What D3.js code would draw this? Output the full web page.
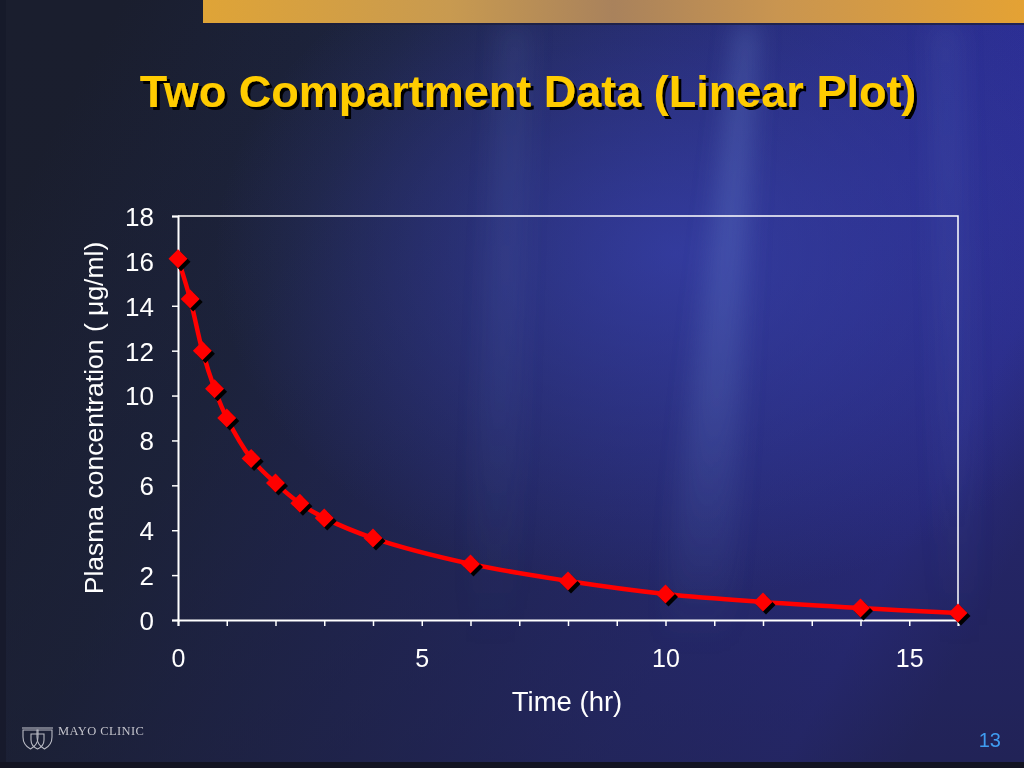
<!DOCTYPE html>
<html><head><meta charset="utf-8">
<script src="https://cdn.jsdelivr.net/npm/d3@7"></script>
<style>html,body{margin:0;padding:0;background:#1b1f33;overflow:hidden}svg{display:block}</style>
</head><body>
<svg id="c" width="1024" height="768"></svg>
<script>
// ---- data ----
const timeHr = [0, 0.25, 0.5, 0.75, 1, 1.5, 2, 2.5, 3, 4, 6, 8, 10, 12, 14, 16];
const concentration = [16.1, 14.3, 12.0, 10.3, 9.0, 7.2, 6.1, 5.2, 4.55, 3.65, 2.5, 1.74, 1.16, 0.8, 0.53, 0.31];
const xTickLabels = [0, 5, 10, 15];
const yTickLabels = [0, 2, 4, 6, 8, 10, 12, 14, 16, 18];
const titleText = "Two Compartment Data (Linear Plot)";
const xTitle = "Time (hr)";
const yTitle = "Plasma concentration ( \u03BCg/ml)";

const svg = d3.select("#c");
const W = 1024, H = 768;
const defs = svg.append("defs");

// background gradient
const bg = defs.append("linearGradient").attr("id","bg").attr("x1","0").attr("y1","0.3").attr("x2","1").attr("y2","0.7");
[[0,"#1a1e2e"],[0.25,"#1d2440"],[0.5,"#24296a"],[0.75,"#2c2f94"],[0.9,"#2f30a4"],[1,"#2a2a8a"]].forEach(([o,c])=>bg.append("stop").attr("offset",o).attr("stop-color",c));
svg.append("rect").attr("width",W).attr("height",H).attr("fill","url(#bg)");

// darker bottom overlay
const dl = defs.append("linearGradient").attr("id","dl").attr("x1","0").attr("y1","0").attr("x2","0").attr("y2","1");
dl.append("stop").attr("offset",0).attr("stop-color","#1a1d2c").attr("stop-opacity",0);
dl.append("stop").attr("offset",1).attr("stop-color","#1a1d2c").attr("stop-opacity",0.55);
svg.append("rect").attr("width",W).attr("height",H).attr("fill","url(#dl)");

// blue glow upper right-center
const glow = defs.append("radialGradient").attr("id","glow").attr("cx","0.66").attr("cy","0.33").attr("r","0.45");
glow.append("stop").attr("offset",0).attr("stop-color","#3b45b8").attr("stop-opacity",0.65);
glow.append("stop").attr("offset",1).attr("stop-color","#3b45b8").attr("stop-opacity",0);
svg.append("rect").attr("width",W).attr("height",H).attr("fill","url(#glow)");

// light beams
const blur = defs.append("filter").attr("id","blur").attr("x","-50%").attr("y","-10%").attr("width","200%").attr("height","120%");
blur.append("feGaussianBlur").attr("stdDeviation",12);
const beamG = defs.append("linearGradient").attr("id","beamG").attr("x1","0").attr("y1","0").attr("x2","0").attr("y2","1");
beamG.append("stop").attr("offset",0).attr("stop-color","#7a9ae0").attr("stop-opacity",1);
beamG.append("stop").attr("offset",0.6).attr("stop-color","#7a9ae0").attr("stop-opacity",0.6);
beamG.append("stop").attr("offset",1).attr("stop-color","#7a9ae0").attr("stop-opacity",0);
const beams = svg.append("g").attr("filter","url(#blur)");
beams.append("path").attr("d","M738,25 L756,25 L730,650 L660,650 Z").attr("fill","url(#beamG)").attr("opacity",0.3);
beams.append("path").attr("d","M500,25 L530,25 L515,650 L465,650 Z").attr("fill","url(#beamG)").attr("opacity",0.1);
beams.append("path").attr("d","M930,25 L960,25 L980,650 L940,650 Z").attr("fill","url(#beamG)").attr("opacity",0.1);

// left dark strip
svg.append("rect").attr("x",0).attr("y",0).attr("width",6).attr("height",H).attr("fill","#15182a").attr("opacity",0.7);

// top bar
const tb = defs.append("linearGradient").attr("id","tb").attr("x1","0").attr("x2","1");
[[0,"#dfa437"],[0.3,"#c89a50"],[0.5,"#a9825c"],[0.7,"#c99550"],[1,"#e4a234"]].forEach(([o,c])=>tb.append("stop").attr("offset",o).attr("stop-color",c));
svg.append("rect").attr("x",203).attr("y",0).attr("width",W-203).attr("height",23).attr("fill","url(#tb)");
svg.append("rect").attr("x",203).attr("y",23).attr("width",W-203).attr("height",2).attr("fill","#1b1d3a").attr("opacity",0.7);

// bottom band
svg.append("rect").attr("x",0).attr("y",762).attr("width",W).attr("height",6).attr("fill","#131422");

// title with shadow filter
const sh = defs.append("filter").attr("id","tsh").attr("x","-5%").attr("y","-20%").attr("width","110%").attr("height","140%");
sh.append("feOffset").attr("in","SourceAlpha").attr("dx",3).attr("dy",3).attr("result","off");
sh.append("feFlood").attr("flood-color","#000");
sh.append("feComposite").attr("in2","off").attr("operator","in").attr("result","shadow");
const mg = sh.append("feMerge");
mg.append("feMergeNode").attr("in","shadow");
mg.append("feMergeNode").attr("in","SourceGraphic");
svg.append("text").attr("x",528).attr("y",107).attr("text-anchor","middle").attr("fill","#ffcc00")
  .attr("filter","url(#tsh)")
  .style("font-family","'Liberation Sans', Arial, sans-serif").style("font-weight","bold").style("font-size","45px")
  .text(titleText);

// chart
const m = {l:178, r:958, t:216, b:620};
const x = d3.scaleLinear().domain([0,16]).range([m.l,m.r]);
const y = d3.scaleLinear().domain([0,18]).range([m.b,m.t]);

const axFont = "'Liberation Sans', Arial, sans-serif";

// frame top/right
svg.append("path").attr("d",`M${m.l},${m.t}H${m.r}V${m.b}`).attr("fill","none").attr("stroke","#fff").attr("stroke-width",1.5);

const xAxis = svg.append("g").attr("transform",`translate(0,${m.b})`)
  .call(d3.axisBottom(x).tickValues(d3.range(0,17,1)).tickSize(6).tickFormat(d=>xTickLabels.includes(d)?d:""));
const yAxis = svg.append("g").attr("transform",`translate(${m.l},0)`)
  .call(d3.axisLeft(y).tickValues(yTickLabels).tickSize(6));
[xAxis,yAxis].forEach(a=>{
  a.select(".domain").attr("stroke","#fff").attr("stroke-width",2);
  a.selectAll(".tick line").attr("stroke","#fff").attr("stroke-width",1.5);
  a.selectAll("text").attr("fill","#fff").style("font-family",axFont).style("font-size","26px");
});
xAxis.selectAll("text").attr("dy","0").attr("y",47).style("font-size","25px");
yAxis.selectAll("text").attr("x",-24).attr("dy","0.36em");

svg.append("text").attr("x",567).attr("y",711).attr("text-anchor","middle").attr("fill","#fff")
  .style("font-family",axFont).style("font-size","27.5px").text(xTitle);
svg.append("text").attr("transform","translate(103,418) rotate(-90)").attr("text-anchor","middle").attr("fill","#fff")
  .style("font-family",axFont).style("font-size","26.5px").text(yTitle);

// line
const pts = timeHr.map((t,i)=>[t,concentration[i]]);
const line = d3.line().x(d=>x(d[0])).y(d=>y(d[1])).curve(d3.curveCatmullRom.alpha(0.5));
svg.append("path").datum(pts).attr("d",line).attr("fill","none").attr("stroke","#ff0000").attr("stroke-width",4.5).attr("stroke-linejoin","round");

// markers
const dsz = 9.5;
const diamond = `M0,${-dsz}L${dsz},0L0,${dsz}L${-dsz},0Z`;
svg.append("g").selectAll("path").data(pts).join("path")
  .attr("transform",d=>`translate(${x(d[0])+3},${y(d[1])+3})`).attr("d",diamond).attr("fill","#000");
svg.append("g").selectAll("path").data(pts).join("path")
  .attr("transform",d=>`translate(${x(d[0])},${y(d[1])})`).attr("d",diamond).attr("fill","#ff0000");

// footer logo
const lg = svg.append("g").attr("transform","translate(22,728)").attr("fill","none").attr("stroke","#b9bac4").attr("stroke-width",1.1);
lg.append("path").attr("d","M0,0 H31");
lg.append("path").attr("d","M1,2 H16 V9 Q16,17 8.5,21 Q1,17 1,9 Z");
lg.append("path").attr("d","M15,2 H30 V9 Q30,17 22.5,21 Q15,17 15,9 Z");
lg.append("path").attr("d","M9,6 H22 V12 Q22,18 15.5,21 Q9,18 9,12 Z");
svg.append("text").attr("x",58).attr("y",735).attr("fill","#c4c4cc")
  .style("font-family","'Liberation Serif', 'DejaVu Serif', serif").style("font-size","12.5px").style("letter-spacing","0.4px").text("MAYO CLINIC");

// page number
svg.append("text").attr("x",1001).attr("y",747).attr("text-anchor","end").attr("fill","#3f9cf0")
  .style("font-family",axFont).style("font-size","20px").text("13");
</script>
</body></html>
